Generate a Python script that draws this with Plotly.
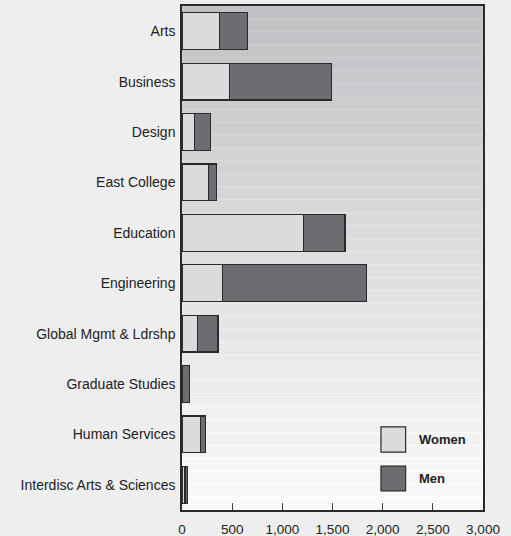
import plotly.graph_objects as go

categories = ["Arts", "Business", "Design", "East College", "Education", "Engineering",
              "Global Mgmt & Ldrshp", "Graduate Studies", "Human Services",
              "Interdisc Arts & Sciences"]
women = [371, 471, 122, 265, 1210, 404, 155, 3, 185, 30]
men = [279, 1021, 163, 76, 415, 1437, 203, 73, 50, 28]
x_ticks = [0, 500, 1000, 1500, 2000, 2500, 3000]
x_tick_labels = ["0", "500", "1,000", "1,500", "2,000", "2,500", "3,000"]
legend_names = ["Women", "Men"]

FONT = "Liberation Sans, Arial, sans-serif"
WOMEN_C = "#dadbdc"
MEN_C = "#6c6d70"
EDGE = "#2a2a2a"

fig = go.Figure()
fig.add_trace(go.Bar(y=categories, x=women, orientation="h", name=legend_names[0],
                     marker=dict(color=WOMEN_C, line=dict(color=EDGE, width=1.2)),
                     showlegend=False))
fig.add_trace(go.Bar(y=categories, x=men, orientation="h", name=legend_names[1],
                     marker=dict(color=MEN_C, line=dict(color=EDGE, width=1.2)),
                     showlegend=False))

# gradient background bands
shapes = []
n = 39
top = (192, 193, 196)
bot = (250, 250, 250)
for i in range(n):
    t = i / (n - 1)
    c = tuple(int(round(top[k] + (bot[k] - top[k]) * t)) for k in range(3))
    lc = tuple(min(255, v + 8) for v in c)
    y1 = 1 - i / n
    y0 = 1 - (i + 1) / n
    shapes.append(dict(type="rect", xref="x domain", yref="y domain",
                       x0=0, x1=1, y0=y0, y1=y1, layer="below",
                       fillcolor="rgb(%d,%d,%d)" % c,
                       line=dict(color="rgb(%d,%d,%d)" % lc, width=1)))

# custom legend swatches
sw = [(WOMEN_C, 0.165, 0.115), (MEN_C, 0.087, 0.038)]
annotations = []
for (col, yt, yb), nm in zip(sw, legend_names):
    shapes.append(dict(type="rect", xref="x domain", yref="y domain",
                       x0=0.661, x1=0.743, y0=yb, y1=yt,
                       fillcolor=col, line=dict(color=EDGE, width=1.2)))
    annotations.append(dict(xref="x domain", yref="y domain", x=0.78, y=(yt + yb) / 2,
                            text="<b>%s</b>" % nm, showarrow=False, xanchor="left",
                            yanchor="middle",
                            font=dict(family=FONT, size=13, color="#222")))

fig.update_layout(
    barmode="stack",
    bargap=0.27,
    width=511, height=536,
    margin=dict(l=182, r=28, t=6, b=26, autoexpand=False),
    paper_bgcolor="#eeeeee",
    plot_bgcolor="rgba(0,0,0,0)",
    font=dict(family=FONT, size=14, color="#222"),
    shapes=shapes,
    annotations=annotations,
)
fig.update_xaxes(range=[0, 3000], tickvals=x_ticks, ticktext=x_tick_labels,
                 ticks="inside", ticklen=7, tickcolor="#444", tickwidth=1,
                 showgrid=False, zeroline=False, showline=True, mirror=True,
                 linecolor=EDGE, linewidth=1.5, automargin=False,
                 ticklabelstandoff=6,
                 tickfont=dict(family=FONT, size=13.5, color="#222"))
fig.update_yaxes(categoryorder="array", categoryarray=categories, autorange="reversed",
                 showgrid=False, zeroline=False, showline=True, mirror=True,
                 linecolor=EDGE, linewidth=1.5, ticks="", ticklabelstandoff=2,
                 automargin=False,
                 tickfont=dict(family=FONT, size=14, color="#222"))

fig.write_html("out.html",
               config={"displayModeBar": False},
               post_script="document.body.style.margin='0';"
                           "document.body.style.background='#eeeeee';")
